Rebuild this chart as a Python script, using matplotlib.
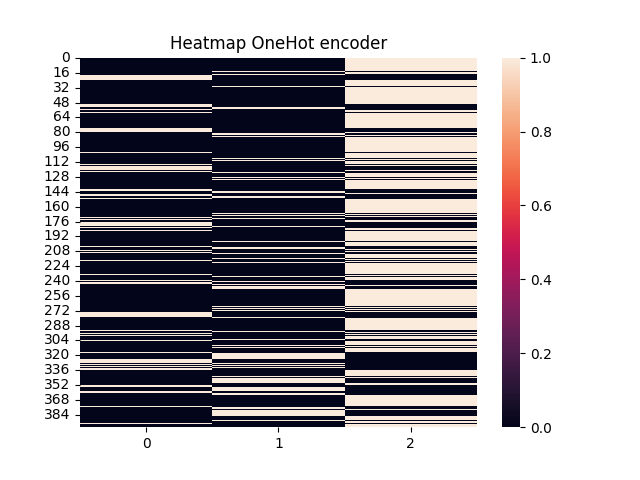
import matplotlib
matplotlib.use("Agg")
import matplotlib.pyplot as plt
import numpy as np
import seaborn as sns

n_rows = 398

# rows where each one hot column is set, the third column is set everywhere else
col0_rows = [19, 20, 21, 22, 23, 50, 51, 52, 55, 59, 76, 77, 78, 79, 102,
             115, 117, 118, 119, 120, 122,
             142, 143, 147, 148, 151, 172, 174, 177, 178, 179, 180, 182, 186, 203, 207, 209,
             218, 233, 240, 242, 243,
             274, 275, 276, 277, 278, 293, 297, 299, 304, 317,
             325, 326, 327, 328, 330, 332, 334, 335, 353, 354, 359, 360, 375, 394]
col1_rows = [14, 18, 31, 53, 54, 81, 82, 84, 108, 110, 123, 129,
             131, 144, 145, 149, 150, 167, 170, 173, 181, 198, 204, 205, 210, 216,
             220, 235, 241, 244, 246, 247, 248,
             268, 270, 272, 279, 294, 303, 310, 312, 318, 319, 320, 321, 322, 323, 324,
             329, 331, 333, 343, 345, 346, 347, 348, 349, 355, 356, 357, 358, 361, 362,
             376, 377, 379, 380, 381, 382, 383, 384, 385, 390]

data = np.zeros((n_rows, 3))
data[col0_rows, 0] = 1
data[col1_rows, 1] = 1
data[:, 2] = 1 - data[:, 0] - data[:, 1]

plt.figure()
sns.heatmap(data, yticklabels=16)
plt.yticks(rotation=0)
plt.title("Heatmap OneHot encoder")

plt.savefig("out.png", dpi=100)
